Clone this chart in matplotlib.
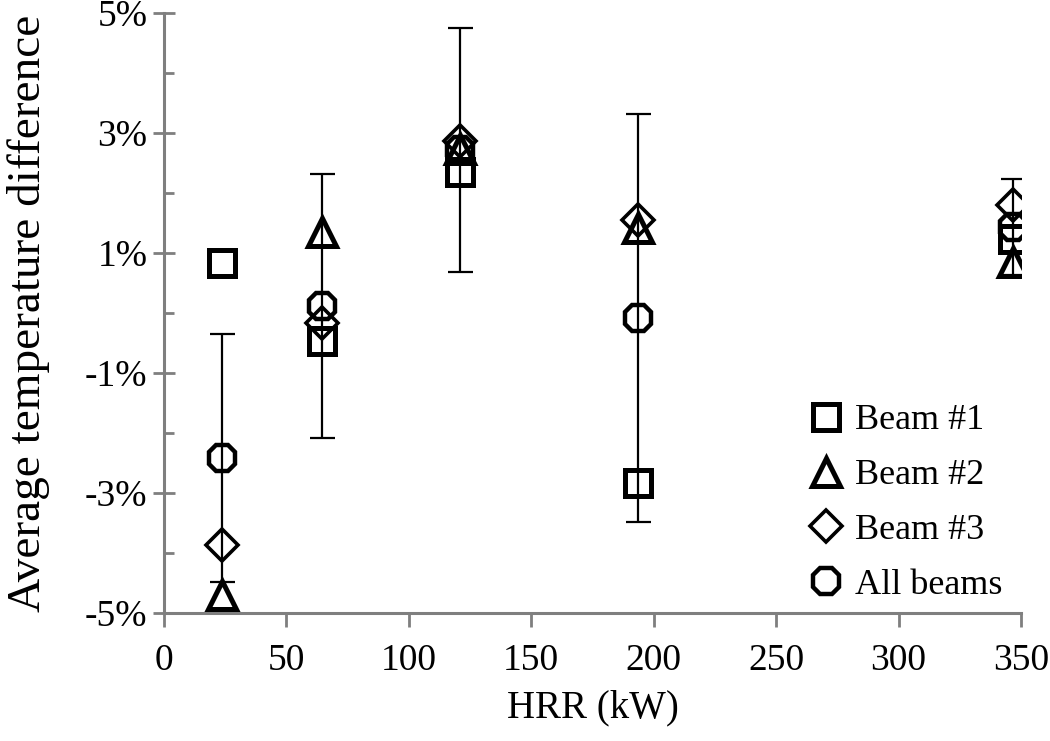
import matplotlib
matplotlib.use('Agg')
import matplotlib.pyplot as plt
from matplotlib.ticker import MultipleLocator, FuncFormatter

# datos (HRR en kW, diferencia en %)
hrr = [23.6, 64.5, 121.0, 193.5, 346.7]
beam1 = [0.83, -0.47, 2.35, -2.83, 1.24]
beam2 = [-4.70, 1.35, 2.74, 1.42, 0.85]
beam3 = [-3.87, -0.17, 2.87, 1.55, 1.80]
all_beams = [-2.42, 0.12, 2.72, -0.08, 1.43]
all_err = [2.07, 2.20, 2.03, 3.40, 0.80]

labels = ['Beam #1', 'Beam #2', 'Beam #3', 'All beams']

plt.rcParams['font.family'] = ['Liberation Serif', 'DejaVu Serif']

fig = plt.figure(figsize=(10.5, 7.41), dpi=100)
ax = fig.add_axes([164 / 1050, 1 - 613 / 741, (1021 - 164) / 1050, 600 / 741])

gray = '#7f7f7f'

# barras de error de "All beams"
ax.errorbar(hrr, all_beams, yerr=all_err, fmt='none', ecolor='black',
            elinewidth=1.6, capsize=9, capthick=1.6, zorder=2)

ax.plot(hrr, beam1, ls='none', marker='s', ms=19, mfc='none', mec='black',
        mew=3.6, label=labels[0], zorder=3)
ax.plot(hrr, beam2, ls='none', marker='^', ms=20, mfc='none', mec='black',
        mew=3.6, label=labels[1], zorder=3)
ax.plot(hrr, beam3, ls='none', marker='D', ms=16.5, mfc='none', mec='black',
        mew=2.6, label=labels[2], zorder=3)
ax.plot(hrr, all_beams, ls='none', marker='8', ms=21, mfc='none', mec='black',
        mew=3.2, label=labels[3], zorder=3)

ax.set_xlim(0, 350)
ax.set_ylim(-5, 5)
ax.xaxis.set_major_locator(MultipleLocator(50))
# los mayores quedan en 5, 3, 1, -1, -3, -5
ax.set_yticks([-5, -3, -1, 1, 3, 5])
ax.set_yticks([-4, -2, 0, 2, 4], minor=True)
ax.yaxis.set_major_formatter(FuncFormatter(lambda v, p: '%d%%' % round(v)))

for s in ['top', 'right']:
    ax.spines[s].set_visible(False)
for s in ['left', 'bottom']:
    ax.spines[s].set_color(gray)
    ax.spines[s].set_linewidth(2.2)

ax.tick_params(axis='x', which='major', direction='out', length=10,
               width=2, color=gray, labelsize=27, pad=12)
ax.tick_params(axis='y', which='major', direction='inout', length=16,
               width=2, color=gray, labelsize=27, pad=4)
ax.tick_params(axis='y', which='minor', direction='in', length=7,
               width=2, color=gray)

ax.set_xlabel('HRR (kW)', fontsize=28, labelpad=8)
ax.set_ylabel('Average temperature difference', fontsize=34)
ax.yaxis.set_label_coords(-0.133, 0.5)

ax.legend(loc='center left', bbox_to_anchor=(808 / 1050, 1 - 503 / 741),
          bbox_transform=fig.transFigure, frameon=False, fontsize=26,
          handlelength=1.0, handletextpad=0.3, borderaxespad=0,
          borderpad=0, labelspacing=0.6)

fig.savefig('out.png', dpi=100)
